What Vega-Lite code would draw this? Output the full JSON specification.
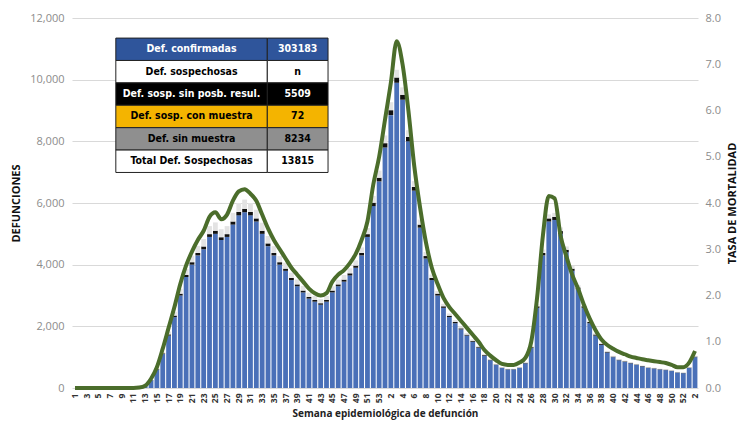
{
  "$schema": "https://vega.github.io/schema/vega-lite/v6.json",
  "width": 626,
  "height": 370,
  "autosize": {"type": "none"},
  "padding": {"left": 72, "top": 18, "right": 44, "bottom": 43},
  "background": "white",
  "config": {"view": {"stroke": null}, "font": "Open Sans"},
  "datasets": {
    "semanas": [
      {"sem": "2020-01", "confirmadas": 0, "sin_resultado": 0, "sin_tomar_muestra": 0, "tasa": 0},
      {"sem": "2020-02", "confirmadas": 0, "sin_resultado": 0, "sin_tomar_muestra": 0, "tasa": 0},
      {"sem": "2020-03", "confirmadas": 0, "sin_resultado": 0, "sin_tomar_muestra": 0, "tasa": 0},
      {"sem": "2020-04", "confirmadas": 0, "sin_resultado": 0, "sin_tomar_muestra": 0, "tasa": 0},
      {"sem": "2020-05", "confirmadas": 0, "sin_resultado": 0, "sin_tomar_muestra": 0, "tasa": 0},
      {"sem": "2020-06", "confirmadas": 0, "sin_resultado": 0, "sin_tomar_muestra": 0, "tasa": 0},
      {"sem": "2020-07", "confirmadas": 0, "sin_resultado": 0, "sin_tomar_muestra": 0, "tasa": 0},
      {"sem": "2020-08", "confirmadas": 0, "sin_resultado": 0, "sin_tomar_muestra": 0, "tasa": 0},
      {"sem": "2020-09", "confirmadas": 0, "sin_resultado": 0, "sin_tomar_muestra": 0, "tasa": 0},
      {"sem": "2020-10", "confirmadas": 0, "sin_resultado": 0, "sin_tomar_muestra": 0, "tasa": 0},
      {"sem": "2020-11", "confirmadas": 0, "sin_resultado": 0, "sin_tomar_muestra": 0, "tasa": 0},
      {"sem": "2020-12", "confirmadas": 10, "sin_resultado": 0, "sin_tomar_muestra": 0, "tasa": 0.01},
      {"sem": "2020-13", "confirmadas": 60, "sin_resultado": 2, "sin_tomar_muestra": 3, "tasa": 0.05},
      {"sem": "2020-14", "confirmadas": 250, "sin_resultado": 8, "sin_tomar_muestra": 12, "tasa": 0.2},
      {"sem": "2020-15", "confirmadas": 600, "sin_resultado": 15, "sin_tomar_muestra": 30, "tasa": 0.45},
      {"sem": "2020-16", "confirmadas": 1100, "sin_resultado": 25, "sin_tomar_muestra": 55, "tasa": 0.85},
      {"sem": "2020-17", "confirmadas": 1700, "sin_resultado": 40, "sin_tomar_muestra": 90, "tasa": 1.3},
      {"sem": "2020-18", "confirmadas": 2300, "sin_resultado": 50, "sin_tomar_muestra": 120, "tasa": 1.75},
      {"sem": "2020-19", "confirmadas": 3000, "sin_resultado": 60, "sin_tomar_muestra": 160, "tasa": 2.25},
      {"sem": "2020-20", "confirmadas": 3600, "sin_resultado": 70, "sin_tomar_muestra": 190, "tasa": 2.65},
      {"sem": "2020-21", "confirmadas": 4000, "sin_resultado": 80, "sin_tomar_muestra": 210, "tasa": 2.95},
      {"sem": "2020-22", "confirmadas": 4300, "sin_resultado": 80, "sin_tomar_muestra": 230, "tasa": 3.2},
      {"sem": "2020-23", "confirmadas": 4500, "sin_resultado": 90, "sin_tomar_muestra": 240, "tasa": 3.4},
      {"sem": "2020-24", "confirmadas": 4900, "sin_resultado": 90, "sin_tomar_muestra": 260, "tasa": 3.7},
      {"sem": "2020-25", "confirmadas": 5000, "sin_resultado": 100, "sin_tomar_muestra": 270, "tasa": 3.8},
      {"sem": "2020-26", "confirmadas": 4800, "sin_resultado": 90, "sin_tomar_muestra": 260, "tasa": 3.65},
      {"sem": "2020-27", "confirmadas": 4900, "sin_resultado": 90, "sin_tomar_muestra": 260, "tasa": 3.75},
      {"sem": "2020-28", "confirmadas": 5300, "sin_resultado": 100, "sin_tomar_muestra": 280, "tasa": 4.05},
      {"sem": "2020-29", "confirmadas": 5600, "sin_resultado": 110, "sin_tomar_muestra": 290, "tasa": 4.25},
      {"sem": "2020-30", "confirmadas": 5700, "sin_resultado": 110, "sin_tomar_muestra": 300, "tasa": 4.3},
      {"sem": "2020-31", "confirmadas": 5600, "sin_resultado": 110, "sin_tomar_muestra": 290, "tasa": 4.2},
      {"sem": "2020-32", "confirmadas": 5400, "sin_resultado": 100, "sin_tomar_muestra": 280, "tasa": 4.05},
      {"sem": "2020-33", "confirmadas": 5000, "sin_resultado": 100, "sin_tomar_muestra": 260, "tasa": 3.75},
      {"sem": "2020-34", "confirmadas": 4600, "sin_resultado": 90, "sin_tomar_muestra": 240, "tasa": 3.45},
      {"sem": "2020-35", "confirmadas": 4300, "sin_resultado": 80, "sin_tomar_muestra": 220, "tasa": 3.2},
      {"sem": "2020-36", "confirmadas": 4000, "sin_resultado": 80, "sin_tomar_muestra": 200, "tasa": 3.0},
      {"sem": "2020-37", "confirmadas": 3800, "sin_resultado": 70, "sin_tomar_muestra": 190, "tasa": 2.8},
      {"sem": "2020-38", "confirmadas": 3500, "sin_resultado": 70, "sin_tomar_muestra": 170, "tasa": 2.6},
      {"sem": "2020-39", "confirmadas": 3300, "sin_resultado": 60, "sin_tomar_muestra": 160, "tasa": 2.45},
      {"sem": "2020-40", "confirmadas": 3100, "sin_resultado": 60, "sin_tomar_muestra": 150, "tasa": 2.3},
      {"sem": "2020-41", "confirmadas": 2900, "sin_resultado": 55, "sin_tomar_muestra": 140, "tasa": 2.15},
      {"sem": "2020-42", "confirmadas": 2800, "sin_resultado": 55, "sin_tomar_muestra": 130, "tasa": 2.05},
      {"sem": "2020-43", "confirmadas": 2700, "sin_resultado": 50, "sin_tomar_muestra": 130, "tasa": 2.0},
      {"sem": "2020-44", "confirmadas": 2800, "sin_resultado": 55, "sin_tomar_muestra": 130, "tasa": 2.05},
      {"sem": "2020-45", "confirmadas": 3100, "sin_resultado": 60, "sin_tomar_muestra": 140, "tasa": 2.3},
      {"sem": "2020-46", "confirmadas": 3300, "sin_resultado": 60, "sin_tomar_muestra": 150, "tasa": 2.45},
      {"sem": "2020-47", "confirmadas": 3450, "sin_resultado": 65, "sin_tomar_muestra": 150, "tasa": 2.55},
      {"sem": "2020-48", "confirmadas": 3650, "sin_resultado": 70, "sin_tomar_muestra": 160, "tasa": 2.7},
      {"sem": "2020-49", "confirmadas": 3900, "sin_resultado": 70, "sin_tomar_muestra": 170, "tasa": 2.9},
      {"sem": "2020-50", "confirmadas": 4300, "sin_resultado": 80, "sin_tomar_muestra": 180, "tasa": 3.2},
      {"sem": "2020-51", "confirmadas": 4900, "sin_resultado": 90, "sin_tomar_muestra": 200, "tasa": 3.6},
      {"sem": "2020-52", "confirmadas": 5900, "sin_resultado": 110, "sin_tomar_muestra": 220, "tasa": 4.4},
      {"sem": "2020-53", "confirmadas": 6700, "sin_resultado": 120, "sin_tomar_muestra": 230, "tasa": 5.0},
      {"sem": "2021-01", "confirmadas": 7800, "sin_resultado": 140, "sin_tomar_muestra": 250, "tasa": 5.8},
      {"sem": "2021-02", "confirmadas": 8850, "sin_resultado": 160, "sin_tomar_muestra": 260, "tasa": 6.6},
      {"sem": "2021-03", "confirmadas": 9900, "sin_resultado": 170, "sin_tomar_muestra": 250, "tasa": 7.5},
      {"sem": "2021-04", "confirmadas": 9350, "sin_resultado": 160, "sin_tomar_muestra": 240, "tasa": 7.0},
      {"sem": "2021-05", "confirmadas": 8000, "sin_resultado": 140, "sin_tomar_muestra": 220, "tasa": 6.0},
      {"sem": "2021-06", "confirmadas": 6400, "sin_resultado": 120, "sin_tomar_muestra": 190, "tasa": 4.8},
      {"sem": "2021-07", "confirmadas": 5200, "sin_resultado": 100, "sin_tomar_muestra": 160, "tasa": 3.9},
      {"sem": "2021-08", "confirmadas": 4200, "sin_resultado": 80, "sin_tomar_muestra": 130, "tasa": 3.15},
      {"sem": "2021-09", "confirmadas": 3500, "sin_resultado": 70, "sin_tomar_muestra": 110, "tasa": 2.6},
      {"sem": "2021-10", "confirmadas": 3000, "sin_resultado": 60, "sin_tomar_muestra": 90, "tasa": 2.25},
      {"sem": "2021-11", "confirmadas": 2600, "sin_resultado": 50, "sin_tomar_muestra": 80, "tasa": 1.95},
      {"sem": "2021-12", "confirmadas": 2300, "sin_resultado": 45, "sin_tomar_muestra": 70, "tasa": 1.75},
      {"sem": "2021-13", "confirmadas": 2100, "sin_resultado": 40, "sin_tomar_muestra": 60, "tasa": 1.6},
      {"sem": "2021-14", "confirmadas": 1900, "sin_resultado": 35, "sin_tomar_muestra": 55, "tasa": 1.45},
      {"sem": "2021-15", "confirmadas": 1700, "sin_resultado": 30, "sin_tomar_muestra": 50, "tasa": 1.3},
      {"sem": "2021-16", "confirmadas": 1500, "sin_resultado": 30, "sin_tomar_muestra": 45, "tasa": 1.15},
      {"sem": "2021-17", "confirmadas": 1300, "sin_resultado": 25, "sin_tomar_muestra": 40, "tasa": 1.0},
      {"sem": "2021-18", "confirmadas": 1050, "sin_resultado": 20, "sin_tomar_muestra": 30, "tasa": 0.82},
      {"sem": "2021-19", "confirmadas": 900, "sin_resultado": 18, "sin_tomar_muestra": 25, "tasa": 0.7},
      {"sem": "2021-20", "confirmadas": 750, "sin_resultado": 15, "sin_tomar_muestra": 20, "tasa": 0.6},
      {"sem": "2021-21", "confirmadas": 650, "sin_resultado": 12, "sin_tomar_muestra": 18, "tasa": 0.52},
      {"sem": "2021-22", "confirmadas": 600, "sin_resultado": 12, "sin_tomar_muestra": 16, "tasa": 0.5},
      {"sem": "2021-23", "confirmadas": 600, "sin_resultado": 12, "sin_tomar_muestra": 16, "tasa": 0.5},
      {"sem": "2021-24", "confirmadas": 650, "sin_resultado": 12, "sin_tomar_muestra": 18, "tasa": 0.55},
      {"sem": "2021-25", "confirmadas": 800, "sin_resultado": 15, "sin_tomar_muestra": 22, "tasa": 0.65},
      {"sem": "2021-26", "confirmadas": 1300, "sin_resultado": 25, "sin_tomar_muestra": 35, "tasa": 1.0},
      {"sem": "2021-27", "confirmadas": 2600, "sin_resultado": 50, "sin_tomar_muestra": 70, "tasa": 1.95},
      {"sem": "2021-28", "confirmadas": 4300, "sin_resultado": 80, "sin_tomar_muestra": 110, "tasa": 3.3},
      {"sem": "2021-29", "confirmadas": 5400, "sin_resultado": 100, "sin_tomar_muestra": 130, "tasa": 4.15},
      {"sem": "2021-30", "confirmadas": 5450, "sin_resultado": 100, "sin_tomar_muestra": 130, "tasa": 4.1},
      {"sem": "2021-31", "confirmadas": 5000, "sin_resultado": 90, "sin_tomar_muestra": 120, "tasa": 3.3},
      {"sem": "2021-32", "confirmadas": 4400, "sin_resultado": 80, "sin_tomar_muestra": 110, "tasa": 2.85},
      {"sem": "2021-33", "confirmadas": 3800, "sin_resultado": 70, "sin_tomar_muestra": 95, "tasa": 2.45},
      {"sem": "2021-34", "confirmadas": 3200, "sin_resultado": 60, "sin_tomar_muestra": 80, "tasa": 2.15},
      {"sem": "2021-35", "confirmadas": 2600, "sin_resultado": 50, "sin_tomar_muestra": 65, "tasa": 1.8},
      {"sem": "2021-36", "confirmadas": 2100, "sin_resultado": 40, "sin_tomar_muestra": 55, "tasa": 1.5},
      {"sem": "2021-37", "confirmadas": 1700, "sin_resultado": 35, "sin_tomar_muestra": 45, "tasa": 1.25},
      {"sem": "2021-38", "confirmadas": 1400, "sin_resultado": 30, "sin_tomar_muestra": 35, "tasa": 1.05},
      {"sem": "2021-39", "confirmadas": 1150, "sin_resultado": 25, "sin_tomar_muestra": 30, "tasa": 0.93},
      {"sem": "2021-40", "confirmadas": 1000, "sin_resultado": 20, "sin_tomar_muestra": 25, "tasa": 0.85},
      {"sem": "2021-41", "confirmadas": 900, "sin_resultado": 18, "sin_tomar_muestra": 22, "tasa": 0.78},
      {"sem": "2021-42", "confirmadas": 850, "sin_resultado": 17, "sin_tomar_muestra": 20, "tasa": 0.73},
      {"sem": "2021-43", "confirmadas": 800, "sin_resultado": 16, "sin_tomar_muestra": 20, "tasa": 0.68},
      {"sem": "2021-44", "confirmadas": 750, "sin_resultado": 15, "sin_tomar_muestra": 18, "tasa": 0.65},
      {"sem": "2021-45", "confirmadas": 700, "sin_resultado": 14, "sin_tomar_muestra": 18, "tasa": 0.62},
      {"sem": "2021-46", "confirmadas": 650, "sin_resultado": 13, "sin_tomar_muestra": 16, "tasa": 0.6},
      {"sem": "2021-47", "confirmadas": 630, "sin_resultado": 12, "sin_tomar_muestra": 15, "tasa": 0.58},
      {"sem": "2021-48", "confirmadas": 600, "sin_resultado": 12, "sin_tomar_muestra": 15, "tasa": 0.56},
      {"sem": "2021-49", "confirmadas": 580, "sin_resultado": 12, "sin_tomar_muestra": 14, "tasa": 0.54},
      {"sem": "2021-50", "confirmadas": 550, "sin_resultado": 11, "sin_tomar_muestra": 14, "tasa": 0.5},
      {"sem": "2021-51", "confirmadas": 500, "sin_resultado": 10, "sin_tomar_muestra": 12, "tasa": 0.45},
      {"sem": "2021-52", "confirmadas": 480, "sin_resultado": 10, "sin_tomar_muestra": 12, "tasa": 0.45},
      {"sem": "2022-01", "confirmadas": 650, "sin_resultado": 13, "sin_tomar_muestra": 16, "tasa": 0.55},
      {"sem": "2022-02", "confirmadas": 1000, "sin_resultado": 20, "sin_tomar_muestra": 25, "tasa": 0.8}
    ],
    "tabla": [
      {"fila": 1, "concepto": "Def. confirmadas", "valor": "303183"},
      {"fila": 2, "concepto": "Def. sospechosas", "valor": "n"},
      {"fila": 3, "concepto": "Def. sosp. sin posb. resul.", "valor": "5509"},
      {"fila": 4, "concepto": "Def. sosp. con  muestra", "valor": "72"},
      {"fila": 5, "concepto": "Def. sin muestra", "valor": "8234"},
      {"fila": 6, "concepto": "Total Def. Sospechosas", "valor": "13815"}
    ]
  },
  "layer": [
    {
      "data": {"name": "semanas"},
      "layer": [
        {
          "transform": [
            {"fold": ["confirmadas", "sin_resultado", "sin_tomar_muestra"], "as": ["serie", "valor"]}
          ],
          "mark": {"type": "bar"},
          "encoding": {
            "x": {
              "field": "sem",
              "type": "ordinal",
              "sort": null,
              "scale": {"paddingInner": 0.18, "paddingOuter": 0.1},
              "axis": {
                "values": ["2020-01","2020-03","2020-05","2020-07","2020-09","2020-11","2020-13","2020-15","2020-17","2020-19","2020-21","2020-23","2020-25","2020-27","2020-29","2020-31","2020-33","2020-35","2020-37","2020-39","2020-41","2020-43","2020-45","2020-47","2020-49","2020-51","2020-53","2021-02","2021-04","2021-06","2021-08","2021-10","2021-12","2021-14","2021-16","2021-18","2021-20","2021-22","2021-24","2021-26","2021-28","2021-30","2021-32","2021-34","2021-36","2021-38","2021-40","2021-42","2021-44","2021-46","2021-48","2021-50","2021-52","2022-02"],
                "labelExpr": "toNumber(slice(datum.value, 5))",
                "labelAngle": -90,
                "labelFontSize": 8.5,
                "labelFontWeight": "bold",
                "labelColor": "#333333",
                "labelPadding": 5,
                "ticks": false,
                "domain": false,
                "title": "Semana epidemiológica de defunción",
                "titleFontSize": 10,
                "titleFontWeight": "bold",
                "titleColor": "#222222",
                "titlePadding": 6
              }
            },
            "y": {
              "field": "valor",
              "type": "quantitative",
              "stack": "zero",
              "scale": {"domain": [0, 12000]},
              "axis": {
                "orient": "left",
                "values": [0, 2000, 4000, 6000, 8000, 10000, 12000],
                "format": ",.0f",
                "labelFontSize": 11,
                "labelColor": "#8c8c8c",
                "labelPadding": 8,
                "ticks": false,
                "domain": false,
                "gridColor": "#d9d9d9",
                "title": "DEFUNCIONES",
                "titleFontSize": 11,
                "titleFontWeight": "bold",
                "titleColor": "#111111",
                "titlePadding": 8
              }
            },
            "color": {
              "field": "serie",
              "type": "nominal",
              "scale": {"domain": ["confirmadas", "sin_resultado", "sin_tomar_muestra"], "range": ["#4a70b8", "#111111", "#e3e3e3"]},
              "legend": null
            },
            "order": {"field": "serie", "type": "ordinal", "sort": "ascending"}
          }
        },
        {
          "mark": {"type": "line", "interpolate": "monotone", "strokeWidth": 4, "color": "#4b6d2b"},
          "encoding": {
            "x": {"field": "sem", "type": "ordinal", "sort": null},
            "y": {
              "field": "tasa",
              "type": "quantitative",
              "scale": {"domain": [0, 8]},
              "axis": {
                "orient": "right",
                "values": [0, 1, 2, 3, 4, 5, 6, 7, 8],
                "format": ".1f",
                "labelFontSize": 11,
                "labelColor": "#8c8c8c",
                "labelPadding": 7,
                "ticks": false,
                "domain": false,
                "grid": false,
                "title": "TASA DE MORTALIDAD",
                "titleAngle": -90,
                "titleFontSize": 11,
                "titleFontWeight": "bold",
                "titleColor": "#111111",
                "titlePadding": 17
              }
            }
          }
        }
      ],
      "resolve": {"scale": {"y": "independent"}}
    },
    {
      "data": {"name": "tabla"},
      "encoding": {
        "y": {
          "field": "fila",
          "type": "ordinal",
          "axis": null,
          "scale": {"domain": [1, 2, 3, 4, 5, 6, 7, 8, 9, 10, 11, 12, 13, 14, 15], "paddingInner": 0, "paddingOuter": 0.76, "align": 0.59}
        }
      },
      "layer": [
        {
          "mark": {"type": "rect", "stroke": "#222222", "strokeWidth": 1},
          "encoding": {
            "x": {"datum": 7.0, "type": "quantitative", "scale": {"domain": [0, 100]}, "axis": null},
            "x2": {"datum": 31.2},
            "fill": {
              "condition": [
                {"test": "datum.fila == 1", "value": "#2f559b"},
                {"test": "datum.fila == 3", "value": "#000000"},
                {"test": "datum.fila == 4", "value": "#f4b400"},
                {"test": "datum.fila == 5", "value": "#8f8f8f"}
              ],
              "value": "#ffffff"
            }
          }
        },
        {
          "mark": {"type": "rect", "stroke": "#222222", "strokeWidth": 1},
          "encoding": {
            "x": {"datum": 31.2, "type": "quantitative"},
            "x2": {"datum": 40.9},
            "fill": {
              "condition": [
                {"test": "datum.fila == 1", "value": "#2f559b"},
                {"test": "datum.fila == 3", "value": "#000000"},
                {"test": "datum.fila == 4", "value": "#f4b400"},
                {"test": "datum.fila == 5", "value": "#8f8f8f"}
              ],
              "value": "#ffffff"
            }
          }
        },
        {
          "mark": {"type": "text", "font": "DejaVu Sans Condensed, Liberation Sans Narrow, sans-serif", "fontSize": 10.5, "fontWeight": "bold"},
          "encoding": {
            "x": {"datum": 19.1, "type": "quantitative"},
            "text": {"field": "concepto"},
            "color": {"condition": {"test": "datum.fila == 1 || datum.fila == 3", "value": "#ffffff"}, "value": "#000000"}
          }
        },
        {
          "mark": {"type": "text", "font": "DejaVu Sans Condensed, Liberation Sans Narrow, sans-serif", "fontSize": 10.5, "fontWeight": "bold"},
          "encoding": {
            "x": {"datum": 36.05, "type": "quantitative"},
            "text": {"field": "valor"},
            "color": {"condition": {"test": "datum.fila == 1 || datum.fila == 3", "value": "#ffffff"}, "value": "#000000"}
          }
        }
      ]
    }
  ],
  "resolve": {"scale": {"x": "independent", "y": "independent", "color": "independent"}}
}
